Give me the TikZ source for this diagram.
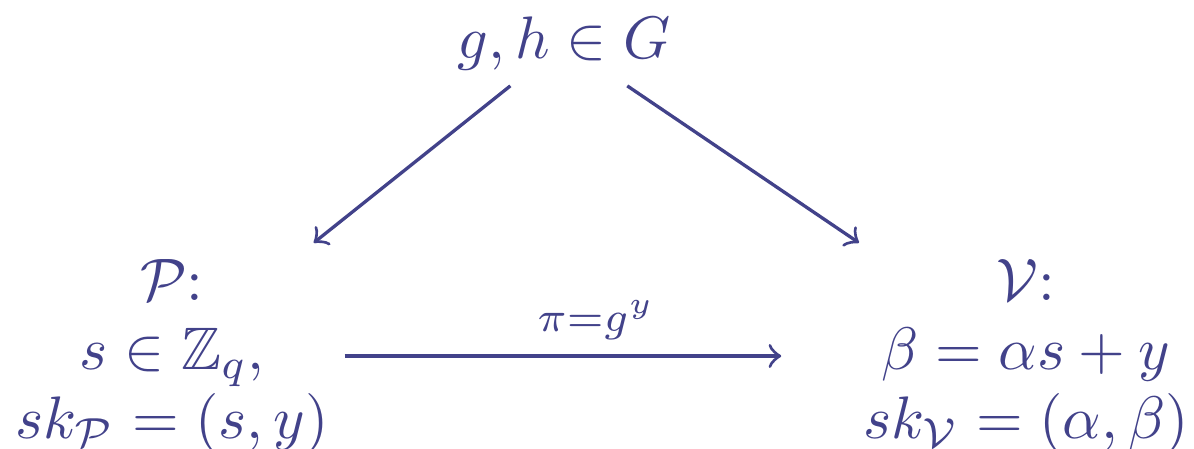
\documentclass[tikz,border=0pt]{standalone}
\usepackage{amssymb}
\definecolor{ink}{RGB}{66,66,138}
\begin{document}
\begin{tikzpicture}[x=0.16667pt,y=-0.16667pt,
  every node/.style={inner sep=2.5pt, text=ink},
  party/.style={align=center, font=\fontsize{10}{11.5}\selectfont},
  arr/.style={draw=ink, line width=0.55pt, ->}]
\useasboundingbox (0,0) rectangle (1194,448);
\node (top) at (564,43) {$g,h\in G$};
\node[party] (P) at (172,356) {$\mathcal{P}$:\\ $s\in\mathbb{Z}_q,$\\ $sk_{\mathcal{P}}=(s,y)$};
\node[party] (V) at (1026,356) {$\mathcal{V}$:\\ $\beta=\alpha s+y$\\ $sk_{\mathcal{V}}=(\alpha,\beta)$};
\draw[arr] (top) -- (P);
\draw[arr] (top) -- (V);
\draw[arr, shorten >=11pt] (P) -- node[midway, above] {$\scriptstyle\pi=g^y$} (V);
\end{tikzpicture}
\end{document}
